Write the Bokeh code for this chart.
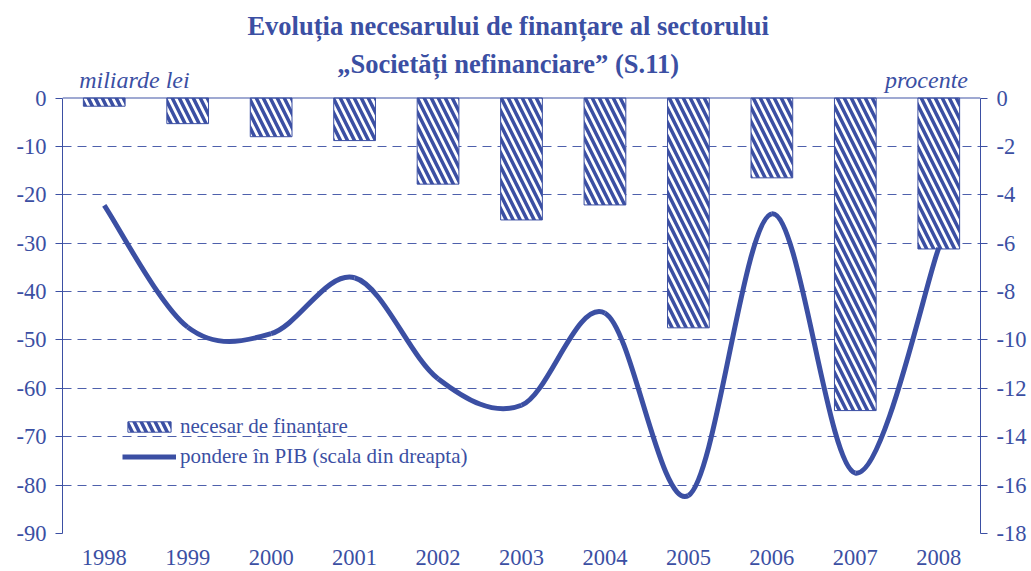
import numpy as np
from bokeh.plotting import figure
from bokeh.models import (Range1d, LinearAxis, FixedTicker, Span, Label,
                          Legend, LegendItem, ColumnDataSource)
from bokeh.embed import file_html
from bokeh.resources import INLINE

# ---- data ----
years = ["1998", "1999", "2000", "2001", "2002", "2003", "2004", "2005", "2006", "2007", "2008"]
need = [-1.7, -5.3, -8.0, -8.8, -17.8, -25.2, -22.1, -47.5, -16.5, -64.6, -31.2]      # miliarde lei
share = [-4.44, -9.47, -9.74, -7.43, -11.6, -12.7, -8.89, -16.43, -4.79, -15.5, -6.19]  # procente din PIB
left_ticks = [-90, -80, -70, -60, -50, -40, -30, -20, -10, 0]
right_ticks = [-18, -16, -14, -12, -10, -8, -6, -4, -2, 0]

title1 = "Evoluția necesarului de finanțare al sectorului"
title2 = "„Societăți nefinanciare” (S.11)"
left_unit = "miliarde lei"
right_unit = "procente"
legend_bar = "necesar de finanțare"
legend_line = "pondere în PIB (scala din dreapta)"

BLUE = "#3b4fa3"
FONT = "Liberation Serif"

n = len(years)
xc = np.arange(n) + 0.5

p = figure(width=1031, height=571, output_backend="svg", toolbar_location=None,
           x_range=Range1d(0, n), y_range=Range1d(-90, 20.15),
           min_border_left=62, min_border_right=51, min_border_top=0,
           min_border_bottom=38)
p.outline_line_color = None
p.extra_y_ranges = {"right": Range1d(-18, 4.03)}

# bars
src = ColumnDataSource(dict(x=xc, top=[0] * n, bottom=need))
bars = p.vbar(x="x", top="top", bottom="bottom", width=0.5, source=src,
              fill_color="white", line_color=BLUE, line_width=1,
              hatch_pattern="left_diagonal_line", hatch_color=BLUE,
              hatch_scale=14, hatch_weight=3.5)

# smoothed line (Bezier segments through the data points)
xs = list(xc)
ys = list(share)
x0, y0, x1, y1, cx0, cy0, cx1, cy1 = [], [], [], [], [], [], [], []
for i in range(n - 1):
    ip = max(i - 1, 0)
    i2 = min(i + 2, n - 1)
    x0.append(xs[i]); y0.append(ys[i])
    x1.append(xs[i + 1]); y1.append(ys[i + 1])
    cx0.append(xs[i] + (xs[i + 1] - xs[ip]) / 6.0)
    cy0.append(ys[i] + (ys[i + 1] - ys[ip]) / 6.0)
    cx1.append(xs[i + 1] - (xs[i2] - xs[i]) / 6.0)
    cy1.append(ys[i + 1] - (ys[i2] - ys[i]) / 6.0)
line = p.bezier(x0=x0, y0=y0, x1=x1, y1=y1, cx0=cx0, cy0=cy0, cx1=cx1, cy1=cy1,
                line_color=BLUE, line_width=5, y_range_name="right")

# zero line
p.add_layout(Span(location=0, dimension="width", line_color=BLUE,
                  line_width=1.5, line_alpha=0.65))

# grid
p.xgrid.grid_line_color = None
p.ygrid.ticker = FixedTicker(ticks=left_ticks[:-1])
p.ygrid.grid_line_color = BLUE
p.ygrid.grid_line_dash = "9 6"
p.ygrid.grid_line_width = 1
p.ygrid.grid_line_alpha = 0.9

def style_axis(ax, ticks):
    ax.ticker = FixedTicker(ticks=ticks)
    ax.major_label_overrides = {t: str(t) for t in ticks}
    ax.axis_line_color = BLUE
    ax.major_tick_line_color = BLUE
    ax.minor_tick_line_color = None
    ax.major_tick_out = 7
    ax.major_tick_in = 0
    ax.major_label_text_font = FONT
    ax.major_label_text_font_size = "22.5px"
    ax.major_label_text_color = BLUE
    ax.major_label_standoff = 9

lax = p.yaxis[0]
style_axis(lax, left_ticks)
lax.bounds = (-90, 0)

rax = LinearAxis(y_range_name="right")
style_axis(rax, right_ticks)
rax.bounds = (-18, 0)
p.add_layout(rax, "right")

xax = p.xaxis[0]
xax.ticker = FixedTicker(ticks=list(xc))
xax.major_label_overrides = {float(x): y for x, y in zip(xc, years)}
xax.axis_line_color = None
xax.major_tick_line_color = None
xax.minor_tick_line_color = None
xax.major_label_text_font = FONT
xax.major_label_text_font_size = "22.5px"
xax.major_label_text_color = BLUE
xax.major_label_standoff = 10

# titles and units
for txt, yy in ((title1, 14.78), (title2, 7.13)):
    p.add_layout(Label(x=5.34, y=yy, text=txt, text_align="center",
                       text_baseline="middle", text_font=FONT,
                       text_font_size="26.5px", text_font_style="bold",
                       text_color=BLUE))
p.add_layout(Label(x=0.2, y=3.66, text=left_unit, text_align="left",
                   text_baseline="middle", text_font=FONT,
                   text_font_size="24px", text_font_style="italic",
                   text_color=BLUE))
p.add_layout(Label(x=10.85, y=3.66, text=right_unit, text_align="right",
                   text_baseline="middle", text_font=FONT,
                   text_font_size="24px", text_font_style="italic",
                   text_color=BLUE))

legend = Legend(items=[LegendItem(label=legend_bar, renderers=[bars]),
                       LegendItem(label=legend_line, renderers=[line])],
                location=(60, 64), padding=0, margin=0, spacing=5,
                glyph_width=54, glyph_height=13, label_standoff=4,
                label_text_font=FONT, label_text_font_size="21px",
                label_text_color=BLUE, border_line_color=None,
                background_fill_alpha=0)
p.add_layout(legend, "center")

open("out.html", "w").write(file_html(p, INLINE))
